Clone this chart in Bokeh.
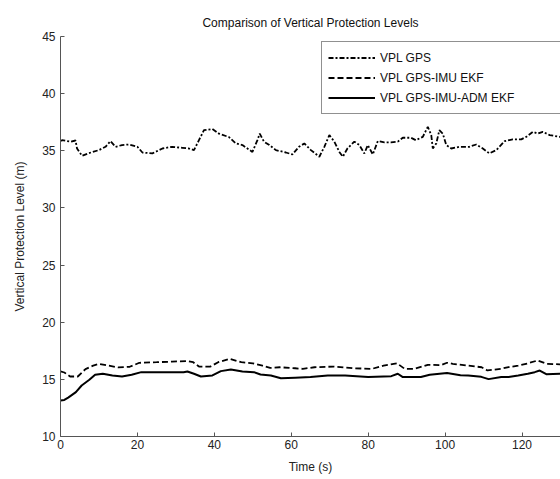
from bokeh.plotting import figure
from bokeh.models import Legend, LegendItem, FixedTicker, Range1d
from bokeh.embed import file_html
from bokeh.resources import INLINE

# ---- data ----
t_gps = [0, 0.4, 2.6, 3.9, 4.3, 5.6, 7.4, 10, 11.7, 13, 14.3, 16, 17.8, 20, 21.3, 23.9, 26.5, 29,
         31.7, 33.4, 34.7, 36, 37.3, 39.5, 41.2, 43.8, 45.6, 47.3, 48.6, 49.9, 51.2, 51.8, 52.9,
         54.3, 56, 58.6, 60.3, 62, 63.4, 65.1, 67.3, 68.6, 69.9, 71.2, 72.5, 73.4, 74.6, 76.4,
         77.7, 79, 79.9, 81.2, 82.5, 84.2, 85.9, 87.7, 89, 91.1, 92.4, 94.2, 95.5, 96.4, 96.8,
         97.7, 98.5, 99.4, 100.3, 101.6, 103.8, 106.3, 108.1, 109.8, 111.5, 113.3, 115.5, 117.6,
         119.8, 121.1, 122.8, 124.1, 125.4, 127.2, 129.8, 130.5]
vpl_gps = [35.85, 35.93, 35.8, 35.9, 35.2, 34.56, 34.8, 35.06, 35.35, 35.85, 35.35, 35.5, 35.55,
           35.35, 34.85, 34.77, 35.2, 35.35, 35.26, 35.2, 35.06, 35.93, 36.8, 36.9, 36.5, 36.2,
           35.64, 35.5, 35.2, 34.9, 35.93, 36.5, 35.8, 35.5, 35.06, 34.85, 34.68, 35.35, 35.64,
           35.06, 34.48, 35.35, 36.37, 35.8, 34.9, 34.48, 35.2, 35.8, 35.5, 34.77, 35.5, 34.68,
           35.85, 35.73, 35.73, 35.8, 36.14, 36.14, 35.93, 36.22, 37.1, 36.37, 35.2, 35.64, 36.8,
           36.5, 35.5, 35.2, 35.35, 35.35, 35.55, 35.2, 34.77, 35.06, 35.85, 36.0, 36.0, 36.22,
           36.66, 36.5, 36.66, 36.37, 36.22, 36.2]

t_ekf = [0, 1, 2.5, 4.5, 6.5, 8.5, 10, 12.5, 15, 18, 20.5, 25, 29, 33, 34.5, 36, 39, 41, 44, 47,
         50, 52.5, 54.5, 57, 61, 63, 66, 71, 76, 81, 84, 87.5, 89.5, 92, 95.5, 99, 100.5, 102,
         106, 109.5, 111, 114.5, 116.5, 119, 121.5, 124, 126.5, 130.5]
vpl_ekf = [15.7, 15.6, 15.25, 15.25, 15.9, 16.2, 16.35, 16.2, 16.05, 16.1, 16.45, 16.5, 16.55,
           16.6, 16.5, 16.12, 16.12, 16.5, 16.8, 16.5, 16.4, 16.2, 16.0, 16.06, 15.97, 15.92,
           16.06, 16.12, 15.97, 15.92, 16.2, 16.4, 15.92, 15.92, 16.27, 16.25, 16.45, 16.36,
           16.2, 16.06, 15.78, 15.92, 16.07, 16.2, 16.4, 16.65, 16.36, 16.3]

t_adm = [0, 1, 2, 4, 5.5, 7.5, 9, 11, 13.5, 16, 18.5, 21, 25, 32, 33, 34.7, 36.5, 39.5, 41.7,
         44.3, 47.3, 50.3, 52, 54.7, 57.3, 61, 65, 69.5, 74, 80, 86, 87.7, 89, 93.7, 96, 100.5,
         104, 106, 109.4, 111.3, 114.6, 116.5, 119, 121.5, 123.3, 124.6, 126.3, 130.5]
vpl_adm = [13.15, 13.2, 13.4, 13.88, 14.46, 14.96, 15.4, 15.49, 15.34, 15.25, 15.4, 15.63, 15.63,
           15.63, 15.69, 15.49, 15.25, 15.34, 15.72, 15.86, 15.69, 15.63, 15.43, 15.34, 15.1,
           15.15, 15.2, 15.34, 15.34, 15.2, 15.28, 15.49, 15.2, 15.2, 15.4, 15.55, 15.36, 15.34,
           15.22, 15.02, 15.2, 15.2, 15.34, 15.49, 15.63, 15.77, 15.45, 15.49]

x_ticks = [0, 20, 40, 60, 80, 100, 120]
y_ticks = [10, 15, 20, 25, 30, 35, 40, 45]
labels = ["VPL GPS", "VPL GPS-IMU EKF", "VPL GPS-IMU-ADM EKF"]

FONT = "Liberation Sans"

p = figure(width=560, height=479, output_backend="svg", toolbar_location=None,
           x_range=Range1d(0, 130), y_range=Range1d(10, 45),
           min_border_left=60, min_border_right=0, min_border_top=36, min_border_bottom=43,
           title="Comparison of Vertical Protection Levels")
p.title.text_font = FONT
p.title.text_font_size = "12px"
p.title.text_font_style = "normal"
p.title.align = "center"
p.title.text_color = "#111111"
p.title.standoff = 14
p.outline_line_color = None
p.grid.visible = False
p.background_fill_color = "white"
p.border_fill_color = "white"

for ax in (p.xaxis[0], p.yaxis[0]):
    ax.axis_line_color = "#555555"
    ax.major_tick_line_color = "#555555"
    ax.major_tick_in = 4
    ax.major_tick_out = 0
    ax.minor_tick_line_color = None
    ax.major_label_text_font = FONT
    ax.major_label_text_font_size = "12px"
    ax.major_label_text_color = "#222222"
    ax.axis_label_text_font = FONT
    ax.axis_label_text_font_size = "12px"
    ax.axis_label_text_font_style = "normal"
    ax.axis_label_text_color = "#222222"

p.xaxis.ticker = FixedTicker(ticks=x_ticks)
p.yaxis.ticker = FixedTicker(ticks=y_ticks)
p.xaxis.axis_label = "Time (s)"
p.yaxis.axis_label = "Vertical Protection Level (m)"
p.xaxis.major_label_standoff = 3
p.xaxis.axis_label_standoff = 8
p.yaxis.major_label_standoff = 5
p.yaxis.axis_label_standoff = 12

r1 = p.line(t_gps, vpl_gps, line_color="black", line_width=1.8, line_dash="5 2 2 2")
r2 = p.line(t_ekf, vpl_ekf, line_color="black", line_width=1.8, line_dash="6 3")
r3 = p.line(t_adm, vpl_adm, line_color="black", line_width=2)

legend = Legend(items=[LegendItem(label=labels[0], renderers=[r1]),
                       LegendItem(label=labels[1], renderers=[r2]),
                       LegendItem(label=labels[2], renderers=[r3])],
                location=(261, 322), margin=0, padding=6, spacing=1,
                glyph_width=47, glyph_height=19, label_height=19, label_width=174,
                label_standoff=5,
                label_text_font=FONT, label_text_font_size="12px", label_text_color="#111111",
                border_line_color="#222222", border_line_width=1,
                background_fill_color="white", background_fill_alpha=1.0)
p.add_layout(legend, "center")

open("out.html", "w").write(file_html(p, INLINE))
